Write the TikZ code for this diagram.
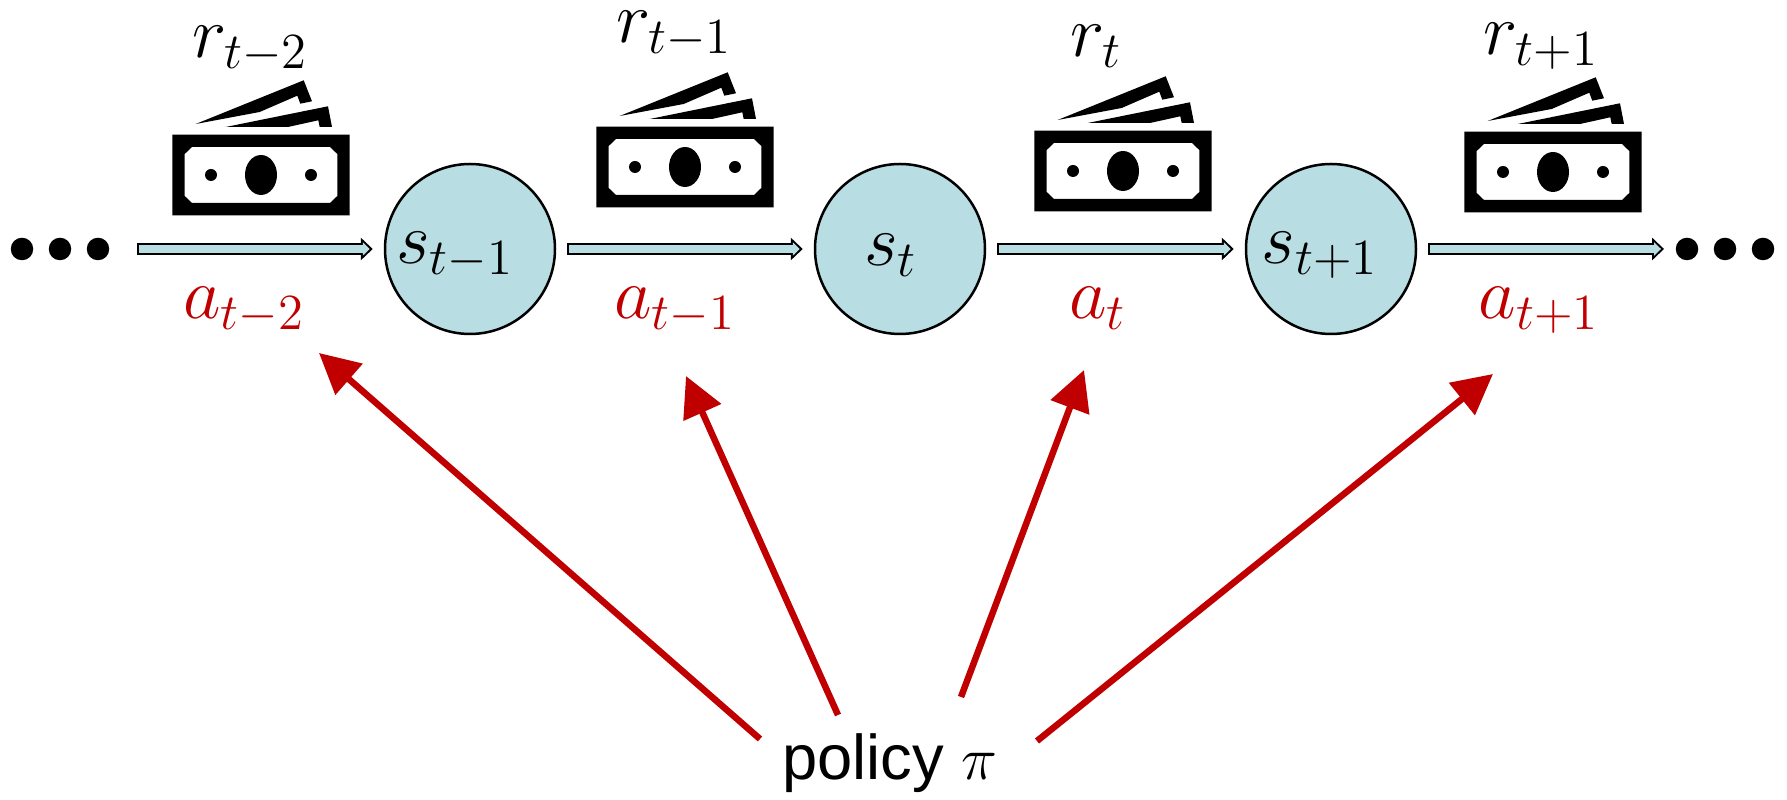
\documentclass[tikz,border=0pt]{standalone}
\usepackage{amsmath,amssymb}
\usepackage{fontspec}
\setmainfont{Liberation Sans}
\usepackage{tikz}
\usetikzlibrary{arrows.meta,calc}
\definecolor{statefill}{HTML}{B8DEE3}
\definecolor{actred}{HTML}{C00000}

\begin{document}
\begin{tikzpicture}[
  x=0.1mm,y=-0.1mm,
  state/.style={draw=black,circle,fill=statefill,line width=0.25mm,minimum size=17mm,inner sep=0pt},
  statelab/.style={inner sep=0pt,font=\fontsize{22}{26}\selectfont},
  rew/.style={text=black,inner sep=0pt,font=\fontsize{20}{24}\selectfont},
  act/.style={text=actred,inner sep=0pt,font=\fontsize{20}{24}\selectfont},
  dot/.style={fill=black,circle,minimum size=2.25mm,inner sep=0pt},
  trans/.style 2 args={draw=black,line width=1.2mm,shorten <=#1,shorten >=#2,-{Triangle[length=1.2mm,width=2.2mm]},
    postaction={draw=statefill,line width=0.8mm,shorten <=#1+0.2mm,shorten >=#2+0.3mm,-{Triangle[length=0.7mm,width=1.3mm]}}},
  polarr/.style={draw=actred,line width=0.65mm,-{Triangle[length=4mm,width=4mm]}},
  money/.pic={
    \fill[even odd rule] (-88.7,-40.3) rectangle (88.7,40.3)
      (-69,-28) -- (69,-28) -- (76.3,-21) -- (76.3,21) -- (69,28) -- (-69,28) -- (-76.3,21) -- (-76.3,-21) -- cycle;
    \fill (0,0) ellipse [x radius=16,y radius=20];
    \fill (-50,0) circle [radius=6];
    \fill (50,0) circle [radius=6];
    \fill (-65.3,-51) -- (42.7,-94.7) -- (51,-73.7) -- (39.3,-71.3) -- (36.3,-79.3) -- (-1.3,-63) -- cycle;
    \fill (-35.3,-48) -- (67,-68.7) -- (71,-48) -- (58.7,-48) -- (57.3,-54.7) -- (27,-48) -- cycle;
  }
]
\useasboundingbox (0,0) rectangle (1787,800);

% states
\node[state,label={[statelab,xshift=-1.5mm,yshift=-0.6mm]center:$s_{t-1}$}] (s1) at (470,249) {};
\node[state,label={[statelab,xshift=-0.9mm,yshift=-0.6mm]center:$s_{t}$}] (s2) at (900,249) {};
\node[state,label={[statelab,xshift=-1.1mm,yshift=-0.6mm]center:$s_{t+1}$}] (s3) at (1331,249) {};

% dots either side
\foreach \i/\xx in {1/22,2/60,3/98,4/1687,5/1725,6/1763}
  \node[dot] (d\i) at (\xx,249) {};

% rewards
\pic at (261,175) {money};
\pic at (685,167) {money};
\pic at (1123,171) {money};
\pic at (1553,172) {money};
\node[rew] (r1) at (250,49) {$r_{t-2}$};
\node[rew] (r2) at (674,34) {$r_{t-1}$};
\node[rew] (r3) at (1096,46) {$r_{t}$};
\node[rew] (r4) at (1541,46) {$r_{t+1}$};

% actions
\node[act] (a1) at (244,310) {$a_{t-2}$};
\node[act] (a2) at (675,310) {$a_{t-1}$};
\node[act] (a3) at (1098,308) {$a_{t}$};
\node[act] (a4) at (1539,310) {$a_{t+1}$};

\node[font=\fontsize{18}{22}\selectfont,inner sep=0pt] (policy) at (890,763) {policy $\pi$};

% transitions
\draw[trans={2.7mm}{1.1mm}] (d3) -- (s1);
\draw[trans={1.1mm}{1.1mm}] (s1) -- (s2);
\draw[trans={1.1mm}{1.1mm}] (s2) -- (s3);
\draw[trans={1.1mm}{1.1mm}] (s3) -- (d4);

% policy arrows
\draw[polarr] ($(policy)+(-130,-24)$) -- ($(a1)+(75,43)$);
\draw[polarr] ($(policy)+(-52,-48)$) -- ($(a2)+(11,66)$);
\draw[polarr] ($(policy)+(71,-66)$) -- ($(a3)+(-14,62)$);
\draw[polarr] ($(policy)+(147,-22)$) -- ($(a4)+(-46,64)$);
\end{tikzpicture}
\end{document}
